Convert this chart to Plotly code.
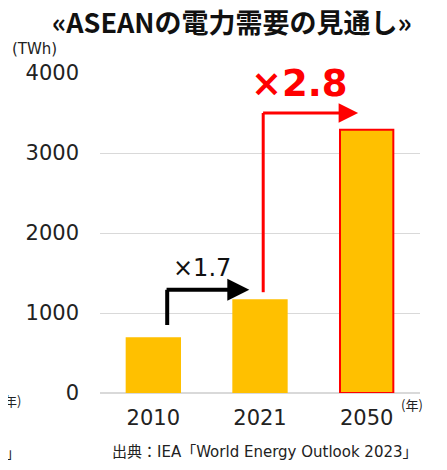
import plotly.graph_objects as go

# データ
years = ["2010", "2021", "2050"]
demand_twh = [685, 1160, 3290]
bar_colors = ["#FFC000", "#FFC000", "#FFC000"]
bar_line_colors = ["#FFC000", "#FFC000", "#FF0000"]
y_ticks = [0, 1000, 2000, 3000, 4000]

FONT = "DejaVu Sans, Noto Sans CJK JP"
JP_FONT = "Noto Sans CJK JP, DejaVu Sans"

fig = go.Figure()

fig.add_trace(go.Bar(
    x=years,
    y=demand_twh,
    width=0.5,
    marker=dict(color=bar_colors, line=dict(color=bar_line_colors, width=2)),
    showlegend=False,
    hoverinfo="skip",
))

# 倍率の矢印（2010→2021）
v0, v1, v2 = demand_twh
fig.add_shape(type="line", xref="x", yref="y",
              x0=0.13, x1=0.13, y0=v0 + 165, y1=v1 + 130,
              line=dict(color="black", width=4))
fig.add_annotation(x=0.9, y=v1 + 130, ax=0.11, ay=v1 + 130,
                   xref="x", yref="y", axref="x", ayref="y",
                   text="", showarrow=True, arrowhead=2, arrowsize=1.1,
                   arrowwidth=4, arrowcolor="black")
fig.add_annotation(x=0.46, y=v1 + 130, xref="x", yref="y", yshift=22,
                   text="×1.7", showarrow=False,
                   font=dict(family=FONT, size=24, color="#111"))

# 倍率の矢印（2021→2050）
fig.add_shape(type="line", xref="x", yref="y",
              x0=1.03, x1=1.03, y0=v1 + 100, y1=3500,
              line=dict(color="#FF0000", width=3))
fig.add_annotation(x=1.92, y=3500, ax=1.015, ay=3500,
                   xref="x", yref="y", axref="x", ayref="y",
                   text="", showarrow=True, arrowhead=2, arrowsize=1.3,
                   arrowwidth=3, arrowcolor="#FF0000")
fig.add_annotation(x=1.37, y=3500, xref="x", yref="y", yshift=30,
                   text="<b>×2.8</b>", showarrow=False,
                   font=dict(family=FONT, size=37, color="#FF0000"))

# テキスト類
fig.add_annotation(x=-0.28, y=1.04, xref="paper", yref="paper",
                   xanchor="left", yanchor="bottom", text="(TWh)",
                   showarrow=False, font=dict(family=FONT, size=15, color="#222"))
fig.add_annotation(x=0.935, y=-0.035, xref="paper", yref="paper",
                   xanchor="left", yanchor="middle", text="(年)",
                   showarrow=False, font=dict(family=JP_FONT, size=13, color="#222"))
fig.add_annotation(x=1.0, y=-0.184, xref="paper", yref="paper",
                   xanchor="right", yanchor="middle",
                   text="出典：IEA「World Energy Outlook 2023」",
                   showarrow=False, font=dict(family=FONT, size=15, color="#222"))
# 左側の切れた文字
fig.add_annotation(x=-0.305, y=-0.022, xref="paper", yref="paper",
                   xanchor="left", yanchor="middle", text="年)",
                   showarrow=False, font=dict(family=JP_FONT, size=13, color="#222"))
fig.add_annotation(x=-0.3, y=-0.184, xref="paper", yref="paper",
                   xanchor="left", yanchor="middle", text="」",
                   showarrow=False, font=dict(family=JP_FONT, size=14, color="#222"))

# ページ余白(8px)を差し引いたサイズ
fig.update_layout(
    width=439, height=462,
    margin=dict(l=92, r=27, t=65, b=77),
    paper_bgcolor="white", plot_bgcolor="white",
    title=dict(text="<b>«ASEANの電力需要の見通し»</b>", x=0.51, xanchor="center",
               xref="container", y=0.966, yanchor="middle",
               font=dict(family=JP_FONT, size=27, color="#111")),
    xaxis=dict(tickfont=dict(family=FONT, size=21, color="#222"),
               ticklabelstandoff=10, showline=False, showgrid=False,
               range=[-0.5, 2.5]),
    yaxis=dict(range=[0, 4000], tickvals=y_ticks,
               tickfont=dict(family=FONT, size=21, color="#222"),
               ticklabelstandoff=20, showgrid=True, gridcolor="#D9D9D9",
               gridwidth=1, zeroline=True, zerolinecolor="#D9D9D9",
               zerolinewidth=2),
    bargap=0.5,
)

fig.write_html("out.html")
